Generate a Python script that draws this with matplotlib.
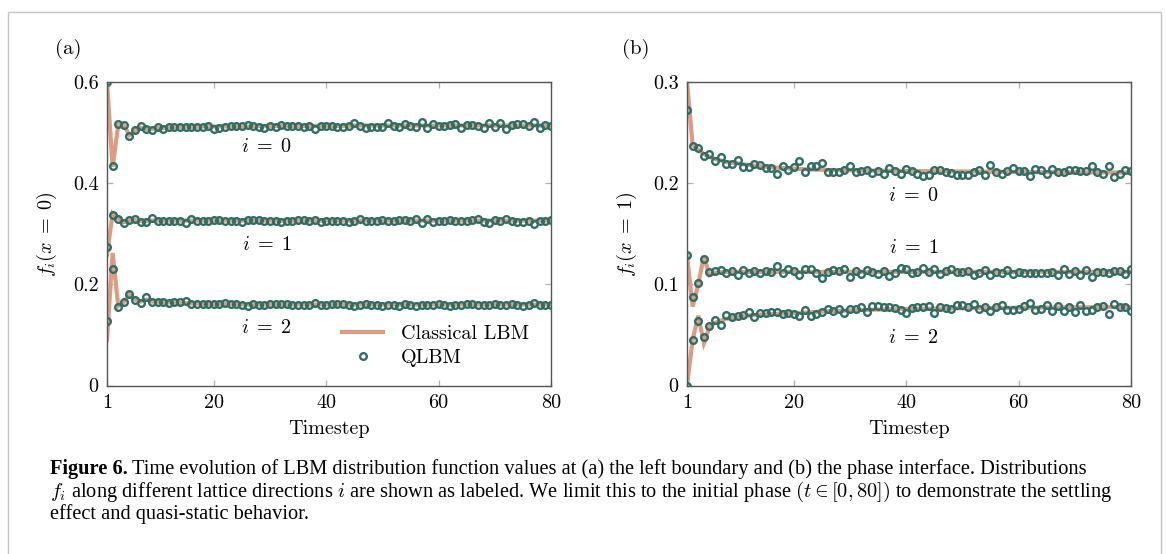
import numpy as np
import matplotlib
matplotlib.use("Agg")
import matplotlib.pyplot as plt
from matplotlib.lines import Line2D
from matplotlib.patches import Rectangle

plt.rcParams['mathtext.fontset'] = 'cm'
plt.rcParams['font.family'] = 'cmr10'
plt.rcParams['axes.formatter.use_mathtext'] = True

# timesteps
t = np.arange(1, 81)

# ---- panel (a): left boundary, x = 0 ----
a_q0 = [0.600, 0.434, 0.517, 0.515, 0.493, 0.505, 0.513, 0.507, 0.506, 0.511,
        0.507, 0.511, 0.511, 0.511, 0.511, 0.511, 0.512, 0.512, 0.513, 0.507,
        0.510, 0.511, 0.513, 0.514, 0.514, 0.515, 0.514, 0.512, 0.509, 0.513,
        0.511, 0.515, 0.514, 0.514, 0.513, 0.511, 0.514, 0.507, 0.514, 0.513,
        0.513, 0.512, 0.512, 0.514, 0.519, 0.514, 0.510, 0.512, 0.511, 0.512,
        0.519, 0.514, 0.512, 0.516, 0.514, 0.512, 0.520, 0.509, 0.516, 0.514,
        0.514, 0.515, 0.516, 0.510, 0.515, 0.515, 0.514, 0.509, 0.519, 0.512,
        0.518, 0.508, 0.515, 0.517, 0.517, 0.514, 0.521, 0.509, 0.515, 0.513]
a_c0 = [0.600, 0.432, 0.515, 0.514, 0.495, 0.504, 0.510, 0.507, 0.507, 0.509,
        0.509, 0.510, 0.510, 0.511, 0.511, 0.511, 0.511, 0.512, 0.512, 0.512,
        0.512, 0.512, 0.512, 0.512, 0.512, 0.512, 0.513, 0.513, 0.513, 0.513,
        0.513, 0.513, 0.513, 0.513, 0.513, 0.513, 0.513, 0.513, 0.513, 0.513,
        0.513, 0.513, 0.513, 0.513, 0.514, 0.514, 0.514, 0.514, 0.514, 0.514,
        0.514, 0.514, 0.514, 0.514, 0.514, 0.514, 0.514, 0.514, 0.514, 0.514,
        0.514, 0.514, 0.514, 0.514, 0.514, 0.514, 0.514, 0.514, 0.514, 0.514,
        0.514, 0.514, 0.514, 0.514, 0.514, 0.514, 0.514, 0.514, 0.514, 0.514]
a_q1 = [0.273, 0.338, 0.330, 0.322, 0.327, 0.329, 0.323, 0.323, 0.331, 0.326,
        0.326, 0.325, 0.326, 0.326, 0.322, 0.329, 0.326, 0.325, 0.326, 0.327,
        0.327, 0.326, 0.326, 0.325, 0.324, 0.327, 0.327, 0.327, 0.325, 0.325,
        0.326, 0.324, 0.326, 0.326, 0.327, 0.327, 0.325, 0.328, 0.324, 0.325,
        0.325, 0.325, 0.325, 0.324, 0.326, 0.329, 0.326, 0.325, 0.326, 0.327,
        0.326, 0.326, 0.327, 0.327, 0.325, 0.330, 0.322, 0.330, 0.324, 0.326,
        0.326, 0.327, 0.325, 0.326, 0.325, 0.327, 0.329, 0.324, 0.322, 0.327,
        0.325, 0.330, 0.325, 0.324, 0.324, 0.326, 0.320, 0.326, 0.326, 0.328]
a_c1 = [0.258, 0.340, 0.330, 0.323, 0.326, 0.327, 0.325, 0.325, 0.326, 0.326,
        0.326, 0.326, 0.326, 0.326, 0.326, 0.326, 0.326, 0.326, 0.326, 0.326,
        0.326, 0.326, 0.326, 0.326, 0.326, 0.326, 0.326, 0.326, 0.326, 0.326,
        0.326, 0.326, 0.326, 0.326, 0.326, 0.326, 0.326, 0.326, 0.326, 0.326,
        0.326, 0.326, 0.326, 0.326, 0.326, 0.326, 0.326, 0.326, 0.326, 0.326,
        0.326, 0.326, 0.326, 0.326, 0.326, 0.326, 0.326, 0.326, 0.326, 0.326,
        0.326, 0.326, 0.326, 0.326, 0.326, 0.326, 0.326, 0.326, 0.326, 0.326,
        0.326, 0.326, 0.326, 0.326, 0.326, 0.326, 0.326, 0.326, 0.326, 0.326]
a_q2 = [0.127, 0.230, 0.156, 0.165, 0.181, 0.170, 0.164, 0.174, 0.166, 0.166,
        0.166, 0.164, 0.165, 0.166, 0.167, 0.161, 0.161, 0.161, 0.162, 0.161,
        0.162, 0.163, 0.161, 0.161, 0.160, 0.158, 0.161, 0.160, 0.159, 0.161,
        0.162, 0.161, 0.161, 0.160, 0.160, 0.160, 0.160, 0.164, 0.160, 0.160,
        0.161, 0.161, 0.162, 0.160, 0.158, 0.160, 0.161, 0.160, 0.159, 0.158,
        0.160, 0.159, 0.158, 0.161, 0.160, 0.158, 0.159, 0.160, 0.159, 0.161,
        0.159, 0.158, 0.160, 0.160, 0.161, 0.161, 0.160, 0.160, 0.159, 0.161,
        0.160, 0.159, 0.161, 0.160, 0.158, 0.159, 0.163, 0.159, 0.159, 0.159]
a_c2 = [0.090, 0.262, 0.157, 0.165, 0.180, 0.170, 0.166, 0.170, 0.166, 0.165,
        0.165, 0.164, 0.164, 0.163, 0.163, 0.162, 0.162, 0.161, 0.161, 0.161,
        0.161, 0.161, 0.161, 0.161, 0.160, 0.160, 0.160, 0.160, 0.160, 0.160,
        0.160, 0.160, 0.160, 0.160, 0.160, 0.160, 0.160, 0.160, 0.160, 0.160,
        0.160, 0.160, 0.160, 0.160, 0.160, 0.160, 0.160, 0.160, 0.160, 0.160,
        0.160, 0.160, 0.160, 0.160, 0.160, 0.160, 0.160, 0.160, 0.160, 0.160,
        0.160, 0.160, 0.160, 0.160, 0.160, 0.160, 0.160, 0.160, 0.160, 0.160,
        0.160, 0.160, 0.160, 0.160, 0.160, 0.160, 0.160, 0.160, 0.160, 0.160]

# ---- panel (b): phase interface, x = 1 ----
b_q0 = [0.272, 0.237, 0.235, 0.227, 0.229, 0.222, 0.226, 0.219, 0.219, 0.2225,
        0.216, 0.216, 0.219, 0.2175, 0.215, 0.215, 0.209, 0.217, 0.213, 0.216,
        0.2215, 0.211, 0.217, 0.217, 0.220, 0.2115, 0.2115, 0.211, 0.213, 0.2165,
        0.211, 0.2125, 0.213, 0.210, 0.212, 0.209, 0.215, 0.212, 0.2095, 0.214,
        0.2122, 0.2092, 0.2066, 0.2083, 0.2135, 0.2135, 0.211, 0.2096, 0.208, 0.2076,
        0.2083, 0.211, 0.2132, 0.2083, 0.2178, 0.2106, 0.209, 0.2122, 0.2152, 0.2119,
        0.2116, 0.2073, 0.2139, 0.2129, 0.2086, 0.2142, 0.2112, 0.2109, 0.2129, 0.2132,
        0.2116, 0.2122, 0.2168, 0.2106, 0.209, 0.2168, 0.2063, 0.209, 0.2129, 0.2116]
b_c0 = [0.300, 0.238, 0.233, 0.229, 0.226, 0.224, 0.2225, 0.221, 0.220, 0.2195,
        0.2187, 0.218, 0.2173, 0.2167, 0.2162, 0.2157, 0.2153, 0.2149, 0.2146, 0.2143,
        0.2140, 0.2138, 0.2136, 0.2134, 0.2132, 0.2131, 0.2130, 0.2129, 0.2128, 0.2127,
        0.2126, 0.2125, 0.2125, 0.2124, 0.2123, 0.2123, 0.2122, 0.2122, 0.2121, 0.2121,
        0.2120, 0.2120, 0.2119, 0.2119, 0.2118, 0.2118, 0.2117, 0.2117, 0.2116, 0.2116,
        0.2115, 0.2115, 0.2114, 0.2114, 0.2113, 0.2113, 0.2112, 0.2112, 0.2111, 0.2111,
        0.2110, 0.2110, 0.2109, 0.2109, 0.2109, 0.2108, 0.2108, 0.2108, 0.2107, 0.2107,
        0.2107, 0.2107, 0.2106, 0.2106, 0.2106, 0.2106, 0.2105, 0.2105, 0.2105, 0.2105]
b_q1 = [0.1287, 0.0875, 0.101, 0.125, 0.1122, 0.1132, 0.1142, 0.1109, 0.1135, 0.1092,
        0.1142, 0.1112, 0.1135, 0.1109, 0.1135, 0.1119, 0.1178, 0.1109, 0.1149, 0.1135,
        0.1096, 0.1152, 0.1149, 0.1116, 0.1066, 0.1125, 0.1142, 0.1135, 0.1152, 0.1069,
        0.1135, 0.1099, 0.1142, 0.1122, 0.1099, 0.1129, 0.1079, 0.1116, 0.1165, 0.1149,
        0.1116, 0.1125, 0.1158, 0.1125, 0.1149, 0.1099, 0.1129, 0.1149, 0.1125, 0.1125,
        0.1135, 0.1089, 0.1116, 0.1142, 0.1089, 0.1125, 0.1112, 0.1142, 0.1106, 0.1125,
        0.1112, 0.1116, 0.1116, 0.1116, 0.1116, 0.1125, 0.1089, 0.1149, 0.1106, 0.1135,
        0.1092, 0.1142, 0.1076, 0.1122, 0.1122, 0.1116, 0.1132, 0.1132, 0.1099, 0.1149]
b_c1 = [0.128, 0.078, 0.100, 0.128, 0.109, 0.1115, 0.112, 0.1122, 0.1123, 0.1123,
        0.1123, 0.1123, 0.1123, 0.1123, 0.1123, 0.1123, 0.1123, 0.1123, 0.1123, 0.1123,
        0.1123, 0.1123, 0.1123, 0.1123, 0.1123, 0.1123, 0.1123, 0.1123, 0.1123, 0.1123,
        0.1123, 0.1123, 0.1123, 0.1123, 0.1123, 0.1123, 0.1123, 0.1123, 0.1123, 0.1123,
        0.1123, 0.1123, 0.1123, 0.1123, 0.1123, 0.1123, 0.1123, 0.1123, 0.1123, 0.1123,
        0.1123, 0.1123, 0.1123, 0.1123, 0.1123, 0.1123, 0.1123, 0.1123, 0.1123, 0.1123,
        0.1123, 0.1123, 0.1123, 0.1123, 0.1123, 0.1123, 0.1123, 0.1123, 0.1123, 0.1123,
        0.1123, 0.1123, 0.1123, 0.1123, 0.1123, 0.1123, 0.1123, 0.1123, 0.1123, 0.1123]
b_q2 = [0.000, 0.0446, 0.0637, 0.0475, 0.0591, 0.065, 0.0597, 0.070, 0.0677, 0.0683,
        0.070, 0.0726, 0.0677, 0.0716, 0.0716, 0.0729, 0.0729, 0.071, 0.0713, 0.0703,
        0.0683, 0.0743, 0.0683, 0.0706, 0.0729, 0.0756, 0.0739, 0.0759, 0.0713, 0.0759,
        0.0752, 0.0772, 0.0726, 0.0782, 0.0782, 0.0779, 0.0772, 0.0766, 0.0743, 0.0715,
        0.0766, 0.0779, 0.0772, 0.0785, 0.072, 0.0772, 0.0769, 0.0756, 0.0792, 0.0795,
        0.0779, 0.0805, 0.0759, 0.0776, 0.0733, 0.0772, 0.0792, 0.0746, 0.0743, 0.0759,
        0.0782, 0.0815, 0.0743, 0.0752, 0.0792, 0.0736, 0.0789, 0.0739, 0.0772, 0.0729,
        0.0792, 0.0736, 0.0749, 0.0779, 0.0789, 0.071, 0.0805, 0.0779, 0.0776, 0.0736]
b_c2 = [0.000, 0.045, 0.069, 0.042, 0.058, 0.062, 0.064, 0.066, 0.067, 0.068,
        0.0686, 0.0692, 0.0697, 0.0701, 0.0704, 0.0707, 0.0709, 0.0711, 0.0713, 0.0715,
        0.0718, 0.0721, 0.0724, 0.0727, 0.0730, 0.0733, 0.0736, 0.0738, 0.0740, 0.0742,
        0.0744, 0.0746, 0.0748, 0.0749, 0.0750, 0.0752, 0.0753, 0.0754, 0.0756, 0.0757,
        0.0758, 0.0758, 0.0759, 0.0760, 0.0760, 0.0761, 0.0762, 0.0762, 0.0763, 0.0763,
        0.0764, 0.0764, 0.0765, 0.0765, 0.0766, 0.0766, 0.0767, 0.0767, 0.0768, 0.0768,
        0.0769, 0.0769, 0.0770, 0.0770, 0.0771, 0.0771, 0.0772, 0.0772, 0.0772, 0.0773,
        0.0773, 0.0773, 0.0774, 0.0774, 0.0774, 0.0775, 0.0775, 0.0775, 0.0775, 0.0775]

xticks = [1, 20, 40, 60, 80]
a_yticks = [0, 0.2, 0.4, 0.6]
a_yticklabels = ['0', '0.2', '0.4', '0.6']
b_yticks = [0, 0.1, 0.2, 0.3]
b_yticklabels = ['0', '0.1', '0.2', '0.3']

line_color = '#dc9c82'
dot_color = '#2d6e66'
fs = 14.5

W, H = 1166, 554
fig = plt.figure(figsize=(W / 100, H / 100), dpi=100)

# grey frame around the figure
fig.add_artist(Rectangle((8 / W, -0.1), (1161 - 8) / W, 1.1 - 12 / H,
                         transform=fig.transFigure, fill=False,
                         edgecolor='#c4c4c4', lw=1.0))


def px_axes(left, right, top, bottom):
    return fig.add_axes([left / W, 1 - bottom / H, (right - left) / W, (bottom - top) / H])


ax_a = px_axes(107, 551, 82, 385.5)
ax_b = px_axes(687, 1131, 82, 385.5)


def draw_panel(ax, classical, quantum, ylim, yticks, yticklabels, ylabel):
    for c, q in zip(classical, quantum):
        ax.plot(t, c, color=line_color, lw=3.0, zorder=2, solid_joinstyle='miter')
        ax.plot(t, q, ls='none', marker='o', ms=4.8, mew=1.7,
                mfc='none', mec=dot_color, zorder=3)
    ax.set_xlim(1, 80)
    ax.set_ylim(*ylim)
    ax.set_xticks(xticks)
    ax.set_xticklabels([str(v) for v in xticks])
    ax.set_yticks(yticks)
    ax.set_yticklabels(yticklabels)
    ax.tick_params(direction='in', length=4.5, width=0.9, color='#b0b0b0',
                   top=True, right=True, labelsize=fs, pad=6)
    for s in ax.spines.values():
        s.set_color('#555555')
        s.set_linewidth(1.0)
    ax.set_xlabel('Timestep', fontsize=fs, labelpad=6)
    ax.set_ylabel(ylabel, fontsize=fs, labelpad=10)


draw_panel(ax_a, [a_c0, a_c1, a_c2], [a_q0, a_q1, a_q2], (0, 0.6),
           a_yticks, a_yticklabels, r'$f_i(x\;=\;0)$')
draw_panel(ax_b, [b_c0, b_c1, b_c2], [b_q0, b_q1, b_q2], (0, 0.3),
           b_yticks, b_yticklabels, r'$f_i(x\;=\;1)$')

# direction labels
for y, lab in [(0.471, r'$i\;=\;0$'), (0.277, r'$i\;=\;1$'), (0.113, r'$i\;=\;2$')]:
    ax_a.text(29.4, y, lab, fontsize=fs, ha='center', va='center')
for y, lab in [(0.187, r'$i\;=\;0$'), (0.136, r'$i\;=\;1$'), (0.0465, r'$i\;=\;2$')]:
    ax_b.text(41.3, y, lab, fontsize=fs, ha='center', va='center')

fig.text(68 / W, 1 - 49 / H, '(a)', fontsize=15, ha='center', va='center')
fig.text(636 / W, 1 - 49 / H, '(b)', fontsize=15, ha='center', va='center')

handles = [Line2D([], [], color=line_color, lw=3.0),
           Line2D([], [], ls='none', marker='o', ms=4.8, mew=1.7,
                  mfc='none', mec=dot_color)]
ax_a.legend(handles, ['Classical LBM', 'QLBM'], loc='upper left',
            bbox_to_anchor=(0.529, 0.199), frameon=False, fontsize=fs,
            borderpad=0, borderaxespad=0, handlelength=2.05,
            handletextpad=0.9, labelspacing=0.3)

# caption
cap_font = 'Liberation Serif'
cfs = 14.7
fig.canvas.draw()
r = fig.canvas.get_renderer()
x0 = 50 / W
y_lines = [474, 497, 519]
tb = fig.text(x0, 1 - y_lines[0] / H, 'Figure 6.', family=cap_font,
              weight='bold', fontsize=cfs, va='baseline')
bb = tb.get_window_extent(r)
fig.text((bb.x1 + 4) / W, 1 - y_lines[0] / H,
         'Time evolution of LBM distribution function values at (a) the left '
         'boundary and (b) the phase interface. Distributions',
         family=cap_font, fontsize=cfs, va='baseline')
fig.text(x0, 1 - y_lines[1] / H,
         r'$f_i$ along different lattice directions $i$ are shown as labeled. '
         r'We limit this to the initial phase $(t \in [0, 80])$ to demonstrate the settling',
         family=cap_font, fontsize=cfs, va='baseline')
fig.text(x0, 1 - y_lines[2] / H, 'effect and quasi-static behavior.',
         family=cap_font, fontsize=cfs, va='baseline')

fig.savefig('out.png', dpi=100)
